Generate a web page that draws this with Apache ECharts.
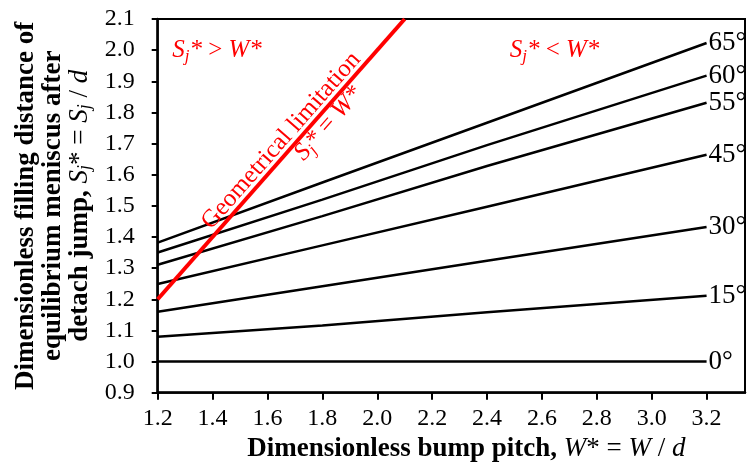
<!DOCTYPE html>
<html>
<head>
<meta charset="utf-8">
<script src="https://cdn.jsdelivr.net/npm/echarts@6/dist/echarts.min.js"></script>
<style>
html,body{margin:0;padding:0;background:#fff;}
#chart{width:748px;height:463px;}
</style>
</head>
<body>
<div id="chart"></div>
<script>
// ---- data ----
const xPoints = [1.2, 1.8, 2.4, 3.2];
const angleLabels = ['65°', '60°', '55°', '45°', '30°', '15°', '0°'];
const s65 = [1.382, 1.575, 1.767, 2.023];
const s60 = [1.350, 1.520, 1.695, 1.918];
const s55 = [1.311, 1.467, 1.628, 1.831];
const s45 = [1.249, 1.373, 1.497, 1.664];
const s30 = [1.160, 1.242, 1.324, 1.432];
const s15 = [1.080, 1.116, 1.158, 1.211];
const s0  = [1.000, 1.000, 1.000, 1.000];
const redLineX = [1.2, 2.1];
const redLineY = [1.2, 2.1];
const xTicks = [1.2, 1.4, 1.6, 1.8, 2.0, 2.2, 2.4, 2.6, 2.8, 3.0, 3.2];
const yTicks = [0.9, 1.0, 1.1, 1.2, 1.3, 1.4, 1.5, 1.6, 1.7, 1.8, 1.9, 2.0, 2.1];
// annotation anchor points (data coordinates)
const noteGreater = [1.416, 2.0];
const noteLess = [2.646, 2.0];
const noteGeom = [1.65, 1.709];
const noteEq = [1.822, 1.764];

const FONT = "'Liberation Serif', 'Times New Roman', serif";
const allSeries = [s65, s60, s55, s45, s30, s15, s0];

const chart = echarts.init(document.getElementById('chart'), null, {renderer: 'canvas'});

const series = allSeries.map((vals, k) => ({
  type: 'line',
  data: xPoints.map((x, i) => [x, vals[i]]),
  symbol: 'none',
  lineStyle: {color: '#000', width: 2.5},
  endLabel: {
    show: true,
    formatter: angleLabels[k],
    color: '#000',
    fontFamily: FONT,
    fontSize: 27,
    distance: 2
  },
  z: 2
}));
series.push({
  type: 'line',
  data: redLineX.map((x, i) => [x, redLineY[i]]),
  symbol: 'none',
  lineStyle: {color: '#ff0000', width: 4},
  z: 3
});

const subRich = (color, size, lh) => ({
  i: {fontFamily: FONT, fontStyle: 'italic', fontSize: size, color: color, lineHeight: lh},
  n: {fontFamily: FONT, fontSize: size, color: color, lineHeight: lh},
  b: {fontFamily: FONT, fontWeight: 'bold', fontSize: size, color: color, lineHeight: lh},
  sub: {fontFamily: FONT, fontStyle: 'italic', fontSize: Math.round(size * 0.68), color: color, lineHeight: lh, verticalAlign: 'bottom'}
});

chart.setOption({
  animation: false,
  backgroundColor: '#fff',
  grid: {
    left: 157.7, right: 3, top: 19, bottom: 70.3,
    containLabel: false,
    outerBoundsMode: 'none',
    show: true, borderColor: '#000', borderWidth: 2, backgroundColor: 'transparent'
  },
  xAxis: {
    type: 'value',
    min: 1.2, max: 3.34,
    axisLine: {show: true, onZero: false, lineStyle: {color: '#000', width: 2.5}},
    axisTick: {show: true, inside: false, length: 7, lineStyle: {color: '#000', width: 2}, customValues: xTicks},
    axisLabel: {customValues: xTicks, formatter: v => v.toFixed(1), fontFamily: FONT, fontSize: 24, color: '#000', margin: 14},
    splitLine: {show: false},
    name: '{b|Dimensionless bump pitch, }{i|W}{n|* = }{i|W}{n| / }{i|d}',
    nameLocation: 'middle',
    nameGap: 38,
    nameTextStyle: {padding: [0, 0, 0, 30], rich: subRich('#000', 27, 30)}
  },
  yAxis: {
    type: 'value',
    min: 0.9, max: 2.1,
    axisLine: {show: true, onZero: false, lineStyle: {color: '#000', width: 2.5}},
    axisTick: {show: true, inside: false, length: 6, lineStyle: {color: '#000', width: 2}, customValues: yTicks},
    axisLabel: {customValues: yTicks, formatter: v => v.toFixed(1), fontFamily: FONT, fontSize: 24, color: '#000', margin: 23},
    splitLine: {show: false},
    name: '{b|Dimensionless filling distance of}\n{b|equilibrium meniscus after}\n{b|detach jump, }{i|S}{sub|j}{n|* = }{i|S}{sub|j}{n| / }{i|d}',
    nameLocation: 'middle',
    nameRotate: 90,
    nameGap: 58,
    nameTextStyle: {align: 'center', rich: subRich('#000', 27, 27)}
  },
  series: series
});

// annotations positioned from data coordinates
const px = p => chart.convertToPixel({gridIndex: 0}, p);
const r0 = px([redLineX[0], redLineY[0]]);
const r1 = px([redLineX[1], redLineY[1]]);
const angle = Math.atan2(r0[1] - r1[1], r1[0] - r0[0]);
const red = '#ff0000';
const mk = (p, text, rot, size) => {
  const q = px(p);
  return {
    type: 'text', x: q[0], y: q[1], rotation: rot || 0, z: 10,
    style: {text: text, rich: subRich(red, size, size + 4), fill: red, align: 'center', verticalAlign: 'middle',
            font: size + 'px ' + FONT}
  };
};
chart.setOption({
  graphic: [
    mk(noteGreater, '{i|S}{sub|j}{i|*}{n| > }{i|W*}', 0, 25),
    mk(noteLess, '{i|S}{sub|j}{i|*}{n| < }{i|W*}', 0, 25),
    mk(noteGeom, '{n|Geometrical limitation}', angle, 25),
    mk(noteEq, '{i|S}{sub|j}{i|*}{n| = }{i|W*}', angle, 25)
  ]
});
</script>
</body>
</html>
